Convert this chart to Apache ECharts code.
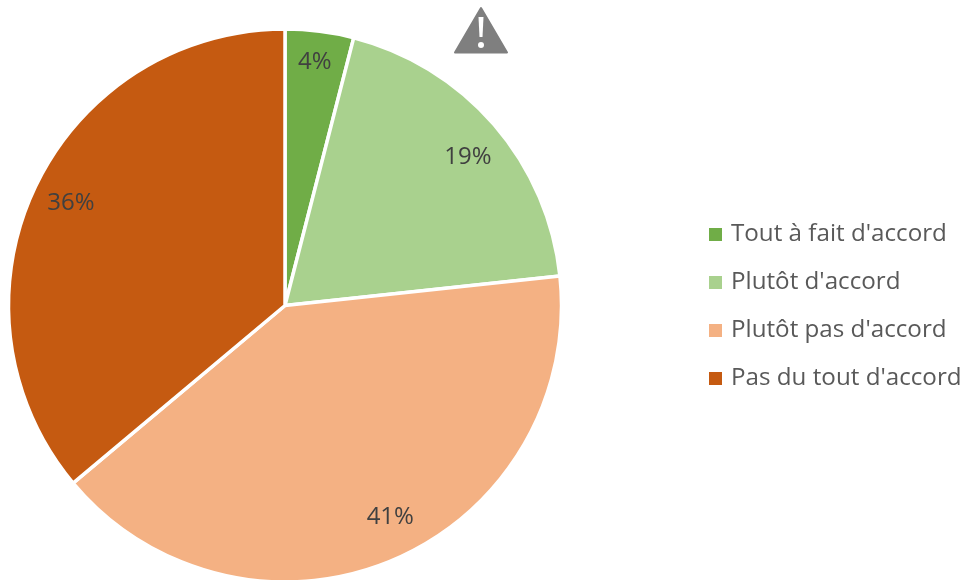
<!DOCTYPE html>
<html><head><meta charset="utf-8">
<style>html,body{margin:0;padding:0;background:#fff}#c{width:965px;height:580px}</style>
<script src="https://cdn.jsdelivr.net/npm/echarts@6/dist/echarts.min.js"></script>
</head><body><div id="c"></div>
<script>
const categories = ["Tout à fait d'accord","Plutôt d'accord","Plutôt pas d'accord","Pas du tout d'accord"];
const values = [4.0,19.3,40.6,36.1];
const colors = ['#70ad47','#a9d18e','#f4b183','#c55a11'];
const labelShift = [[12,-103],[76,-56],[50,82],[-86,-43]];
const chart = echarts.init(document.getElementById('c'),null,{renderer:'canvas'});
const font = '"Open Sans","Noto Sans",sans-serif';
chart.setOption({
  animation:false,
  backgroundColor:'#fff',
  color:colors,
  legend:{
    orient:'vertical',left:707,top:216,padding:0,
    itemWidth:15,itemHeight:15,itemGap:11,icon:'rect',
    textStyle:{fontFamily:font,fontSize:24.2,color:'#595959',lineHeight:33,padding:[4,0,0,3]},
    data:categories
  },
  series:[{
    type:'pie',center:[285,305.5],radius:[0,276.5],startAngle:90,clockwise:true,
    label:{show:true,position:'inside',formatter:p=>Math.round(p.value)+'%',fontFamily:font,fontSize:24,color:'#404040'},
    labelLine:{show:false},
    labelLayout:p=>({dx:labelShift[p.dataIndex][0],dy:labelShift[p.dataIndex][1]}),
    itemStyle:{borderColor:'#fff',borderWidth:3.5},
    emphasis:{disabled:true},
    data:categories.map((n,i)=>({name:n,value:values[i]}))
  }],
  graphic:[{
    type:'group',left:454,top:7,children:[
      {type:'polygon',shape:{points:[[27,2],[53,46.5],[1,46.5]]},style:{fill:'#7f7f7f',lineJoin:'round',stroke:'#7f7f7f',lineWidth:2}},
      {type:'polygon',shape:{points:[[24.5,11],[29.5,11],[28.5,31],[25.5,31]]},style:{fill:'#fff'}},
      {type:'circle',shape:{cx:27,cy:39,r:3},style:{fill:'#fff'}}
    ]
  }]
});
</script></body></html>
